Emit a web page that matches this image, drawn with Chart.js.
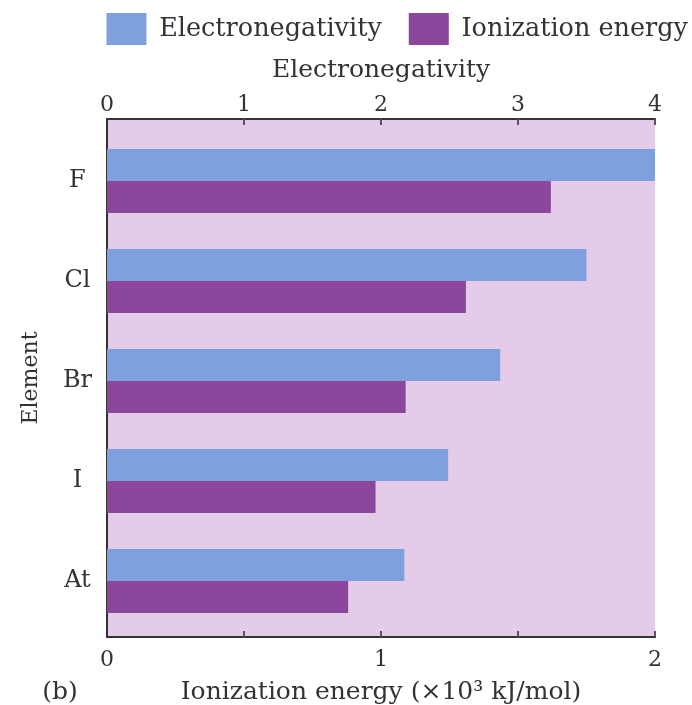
<!DOCTYPE html>
<html lang="en">
<head>
    <meta charset="UTF-8">
    <title>Electronegativity and ionization energy of the halogens</title>
    <script src="https://cdn.jsdelivr.net/npm/chart.js"></script>
    <style>
        html, body { margin: 0; padding: 0; background: #fff; }
        #wrap { width: 692px; height: 705px; }
    </style>
</head>
<body>
    <div id="wrap"><canvas id="myChart"></canvas></div>

    <script>
        // values
        const elements = ['F', 'Cl', 'Br', 'I', 'At'];
        const electronegativity = [4.0, 3.5, 2.87, 2.49, 2.17];
        const ionizationEnergy = [1.62, 1.31, 1.09, 0.98, 0.88];   // x10^3 kJ/mol
        const enTicks = [0, 1, 2, 3, 4];
        const ieTicks = [0, 0.5, 1, 1.5, 2];

        const textColor = '#333';
        const axisColor = '#333';

        Chart.defaults.font.family = "'DejaVu Serif', serif";
        Chart.defaults.color = textColor;

        // light purple plot background
        const plotBackground = {
            id: 'plotBackground',
            beforeDraw(chart) {
                const {ctx, chartArea: a} = chart;
                ctx.save();
                ctx.fillStyle = '#e3cbe9';
                ctx.fillRect(a.left, a.top, a.right - a.left, a.bottom - a.top);
                ctx.restore();
            }
        };

        // short tick marks pointing into the plot, plus the "(b)" panel tag
        const innerTicks = {
            id: 'innerTicks',
            afterDraw(chart) {
                const {ctx, chartArea: a} = chart;
                ctx.save();
                ctx.strokeStyle = '#555';
                ctx.lineWidth = 2;
                enTicks.slice(1).forEach(v => {
                    const px = chart.scales.x2.getPixelForValue(v);
                    ctx.beginPath(); ctx.moveTo(px, a.top); ctx.lineTo(px, a.top + 6); ctx.stroke();
                });
                ieTicks.slice(1).forEach(v => {
                    const px = chart.scales.x.getPixelForValue(v);
                    ctx.beginPath(); ctx.moveTo(px, a.bottom); ctx.lineTo(px, a.bottom - 6); ctx.stroke();
                });
                ctx.fillStyle = textColor;
                ctx.font = "25px 'DejaVu Serif', serif";
                ctx.textAlign = 'center';
                ctx.textBaseline = 'middle';
                ctx.fillText('(b)', 60, 692);
                ctx.restore();
            }
        };

        const ctx = document.getElementById('myChart').getContext('2d');
        const myChart = new Chart(ctx, {
            type: 'bar',
            data: {
                datasets: [{
                    label: 'Electronegativity',
                    data: electronegativity.map((v, i) => ({x: v, y: i})),
                    xAxisID: 'x2',
                    backgroundColor: '#7fa0df',
                    borderWidth: 0
                }, {
                    label: 'Ionization energy',
                    data: ionizationEnergy.map((v, i) => ({x: v, y: i})),
                    xAxisID: 'x',
                    backgroundColor: '#8c469c',
                    borderWidth: 0
                }]
            },
            options: {
                indexAxis: 'y',
                responsive: true,
                maintainAspectRatio: false,
                animation: false,
                categoryPercentage: 0.64,
                barPercentage: 1.0,
                // legend runs almost to the right edge, so let it overhang the padding
                layout: { padding: { top: -14, right: -23, left: 0, bottom: 0 } },
                scales: {
                    y: {
                        type: 'linear',
                        position: 'left',
                        reverse: true,
                        offset: false,
                        min: -0.62,
                        max: 4.56,
                        afterBuildTicks: s => { s.ticks = elements.map((_, i) => ({value: i})); },
                        afterFit: s => { s.width = 107; },
                        grid: { display: false, drawTicks: false, offset: false },
                        border: { display: true, color: axisColor, width: 2 },
                        ticks: {
                            callback: v => elements[v],
                            crossAlign: 'center',
                            padding: 15,
                            font: { size: 24 }
                        },
                        title: {
                            display: true,
                            text: 'Element',
                            font: { size: 22 },
                            padding: { top: 18, bottom: 0 }
                        }
                    },
                    x2: {
                        type: 'linear',
                        position: 'top',
                        min: 0,
                        max: 4,
                        afterBuildTicks: s => { s.ticks = enTicks.map(v => ({value: v})); },
                        afterFit: s => { s.height = 64; },
                        grid: { display: false, drawTicks: false },
                        border: { display: true, color: axisColor, width: 2 },
                        ticks: { padding: 1, font: { size: 22 } },
                        title: {
                            display: true,
                            text: 'Electronegativity',
                            font: { size: 25 },
                            padding: { top: 0, bottom: 0 }
                        }
                    },
                    x: {
                        type: 'linear',
                        position: 'bottom',
                        min: 0,
                        max: 2,
                        afterBuildTicks: s => { s.ticks = ieTicks.map(v => ({value: v})); },
                        afterFit: s => { s.height = 68; },
                        grid: { display: false, drawTicks: false },
                        border: { display: true, color: axisColor, width: 2 },
                        ticks: {
                            callback: v => (Number.isInteger(v) ? v : ''),
                            padding: 10,
                            font: { size: 22 }
                        },
                        title: {
                            display: true,
                            text: 'Ionization energy (×10³ kJ/mol)',
                            font: { size: 25, lineHeight: 1 },
                            padding: { top: 0, bottom: 0 }
                        }
                    },
                    // empty strip on the right so the plot stops where the original does
                    pad: {
                        type: 'linear',
                        position: 'right',
                        display: true,
                        afterFit: s => { s.width = 60; },
                        grid: { display: false, drawTicks: false },
                        border: { display: false },
                        ticks: { display: false }
                    }
                },
                plugins: {
                    legend: {
                        align: 'end',
                        labels: {
                            boxWidth: 40,
                            boxHeight: 32,
                            padding: 27,
                            color: textColor,
                            font: { size: 25.5 }
                        }
                    },
                    tooltip: { enabled: false }
                }
            },
            plugins: [plotBackground, innerTicks]
        });
    </script>
</body>
</html>
